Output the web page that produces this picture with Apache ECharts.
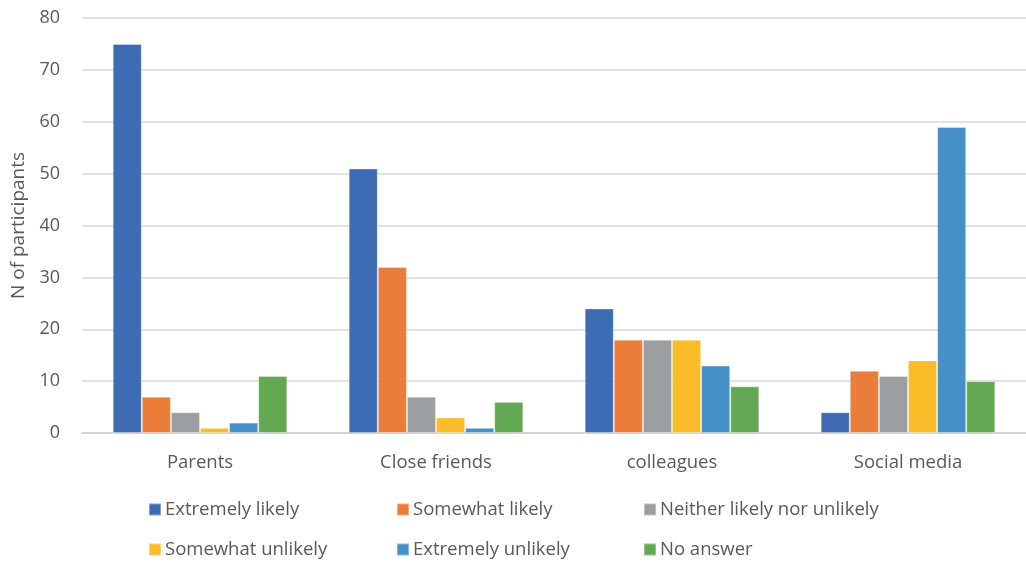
<!DOCTYPE html>
<html>
<head>
<meta charset="utf-8">
<script src="https://cdn.jsdelivr.net/npm/echarts@6/dist/echarts.min.js"></script>
<style>
  html, body { margin: 0; padding: 0; background: #fff; }
  #chart { width: 1026px; height: 562px; }
</style>
</head>
<body>
<div id="chart"></div>
<script>
var categories = ['Parents', 'Close friends', 'colleagues', 'Social media'];
var seriesNames = ['Extremely likely', 'Somewhat likely', 'Neither likely nor unlikely',
  'Somewhat unlikely', 'Extremely unlikely', 'No answer'];
var extremelyLikely = [75, 51, 24, 4];
var somewhatLikely = [7, 32, 18, 12];
var neither = [4, 7, 18, 11];
var somewhatUnlikely = [1, 3, 18, 14];
var extremelyUnlikely = [2, 1, 13, 59];
var noAnswer = [11, 6, 9, 10];
var yTicks = [0, 10, 20, 30, 40, 50, 60, 70, 80];

var colors = ['#3D6CB5', '#EB7D3A', '#9C9FA2', '#FBBC2A', '#4590C9', '#63A853'];
var values = [extremelyLikely, somewhatLikely, neither, somewhatUnlikely, extremelyUnlikely, noAnswer];
var font = 'Open Sans';

// legend positions: 3 columns x 2 rows
var legendPos = [[148, 500], [396, 500], [643, 500], [148, 540], [396, 540], [643, 540]];

var chart = echarts.init(document.getElementById('chart'));
chart.setOption({
  animation: false,
  color: colors,
  grid: { left: 82, right: 0, top: 18, bottom: 129 },
  legend: seriesNames.map(function (n, i) {
    return {
      data: [n],
      left: legendPos[i][0],
      top: legendPos[i][1],
      padding: 0,
      itemWidth: 12,
      itemHeight: 12,
      icon: 'rect',
      itemGap: 0,
      textStyle: { color: '#595959', fontSize: 18.5, fontFamily: font, padding: [0, 0, 0, -1] }
    };
  }),
  xAxis: {
    type: 'category',
    data: categories,
    axisTick: { show: false },
    axisLine: { lineStyle: { color: '#d0d0d0', width: 1.5 } },
    axisLabel: { color: '#595959', fontSize: 18.5, fontFamily: font, margin: 20 }
  },
  yAxis: {
    type: 'value',
    min: yTicks[0],
    max: yTicks[yTicks.length - 1],
    interval: 10,
    name: 'N of participants',
    nameLocation: 'middle',
    nameGap: 53,
    nameTextStyle: { color: '#595959', fontSize: 19, fontFamily: font },
    axisLabel: { color: '#595959', fontSize: 18, fontFamily: font, margin: 22 },
    splitLine: { lineStyle: { color: '#d9d9d9', width: 1.5 } },
    axisLine: { show: false },
    axisTick: { show: false }
  },
  series: seriesNames.map(function (n, i) {
    return {
      name: n,
      type: 'bar',
      data: values[i],
      barGap: '0%',
      barCategoryGap: '26%',
      itemStyle: { borderColor: 'rgba(255,255,255,0.35)', borderWidth: 1 }
    };
  })
});
</script>
</body>
</html>
